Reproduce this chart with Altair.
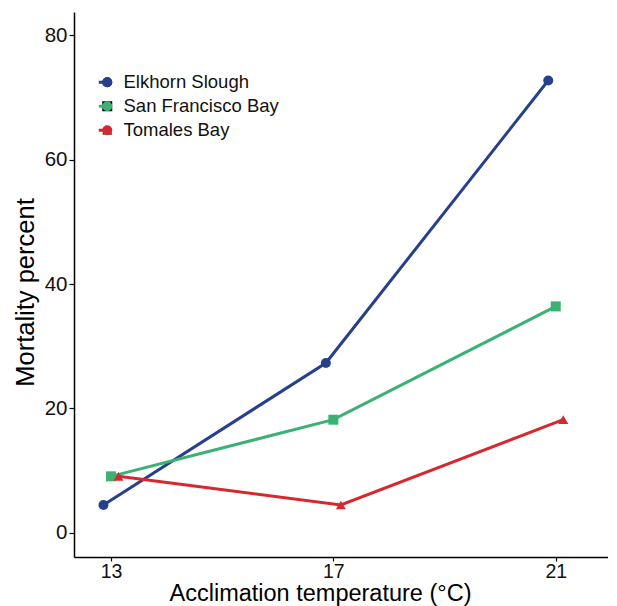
import altair as alt
import pandas as pd

temps = [13, 17, 21]
sites = ["Elkhorn Slough", "San Francisco Bay", "Tomales Bay"]
elkhorn = [4.5, 27.3, 72.7]
sf_bay = [9.1, 18.2, 36.4]
tomales = [9.1, 4.5, 18.2]
colors = ["#26408B", "#3BB273", "#D7282F"]
shapes = ["circle", "square", "triangle-up"]

rows = []
for i, (site, vals) in enumerate(zip(sites, [elkhorn, sf_bay, tomales])):
    for t, v in zip(temps, vals):
        rows.append({"site": site, "idx": i, "temp": t, "mortality": v})
df = pd.DataFrame(rows)

FONT = "Liberation Sans"

base = alt.Chart(df).transform_calculate(
    xd="datum.temp + (datum.idx - 1) * 0.135",
    site_l="datum.site",
)

x = alt.X(
    "xd:Q",
    scale=alt.Scale(domain=[12.335, 21.94], nice=False, zero=False),
    axis=alt.Axis(
        title="Acclimation temperature (°C)",
        titleFontSize=23.5,
        values=temps,
        format="d",
        grid=False,
        tickSize=4,
        labelPadding=1,
        labelFontSize=19.5,
        titlePadding=0.5,
        titleX=246,
    ),
)
y = alt.Y(
    "mortality:Q",
    scale=alt.Scale(domain=[-3.86, 83.7], nice=False, zero=False),
    axis=alt.Axis(
        title="Mortality percent",
        titleFontSize=25.5,
        values=[0, 20, 40, 60, 80],
        grid=False,
        tickSize=5,
        labelPadding=2,
        labelFontSize=20.5,
        titlePadding=6,
        titleY=280,
    ),
)

line_legend = alt.Legend(
    title=None,
    orient="none",
    legendX=22,
    legendY=61,
    labelFontSize=18.5,
    labelFont=FONT,
    labelColor="#111111",
    symbolType="stroke",
    symbolSize=169,
    symbolStrokeWidth=3,
    labelOffset=9,
    rowPadding=5,
    padding=0,
)
pt_legend = alt.Legend(
    title=None,
    orient="none",
    legendX=24,
    legendY=61,
    labelFontSize=18.5,
    labelFont=FONT,
    labelExpr="''",
    symbolSize=100,
    symbolStrokeWidth=0,
    labelOffset=0,
    rowPadding=5,
    padding=0,
)

lines = base.mark_line(strokeWidth=3).encode(
    x=x,
    y=y,
    color=alt.Color("site_l:N", scale=alt.Scale(domain=sites, range=colors), legend=line_legend),
    detail="site:N",
)
points = base.mark_point(filled=True, size=100, opacity=1).encode(
    x=x,
    y=y,
    color=alt.Color("site:N", scale=alt.Scale(domain=sites, range=colors), legend=pt_legend),
    shape=alt.Shape("site:N", scale=alt.Scale(domain=sites, range=shapes), legend=pt_legend),
)

chart = (
    alt.layer(lines, points)
    .resolve_scale(color="independent")
    .properties(
        width=534,
        height=545,
        autosize=alt.AutoSizeParams(type="none"),
        padding={"left": 66, "top": 4, "right": 0, "bottom": 49},
    )
    .configure_view(stroke=None)
    .configure_axis(
        domainColor="#000000",
        domainWidth=1.5,
        tickColor="#000000",
        tickWidth=1.2,
        labelFont=FONT,
        labelColor="#111111",
        titleFont=FONT,
        titleFontWeight="normal",
        titleColor="#000000",
    )
)

chart.save("out.html", embed_options={"renderer": "svg", "actions": False})
